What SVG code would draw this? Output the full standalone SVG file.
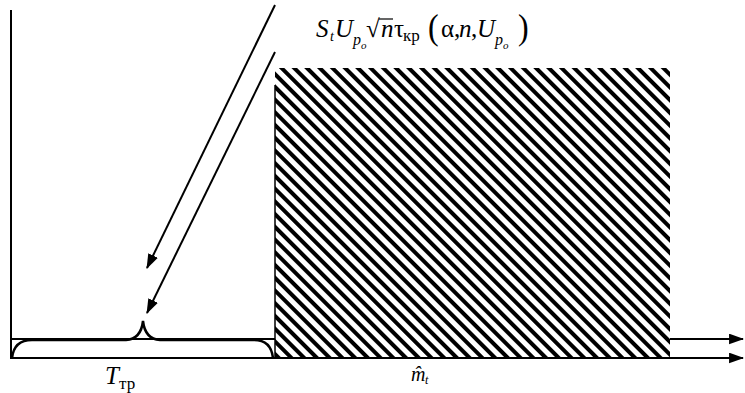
<svg xmlns="http://www.w3.org/2000/svg" width="745" height="393" viewBox="0 0 745 393">
<style>
.ln{stroke:#000;stroke-width:2;fill:none}
.ar{stroke:#000;stroke-width:2;fill:none;marker-end:url(#ah)}
.it{font-family:"Liberation Serif","Times New Roman",serif;font-style:italic;fill:#000}
.rm{font-family:"Liberation Serif","Times New Roman",serif;fill:#000}
</style>
<defs>
<marker id="ah" viewBox="0 0 14 10" refX="13" refY="5" markerWidth="7.5" markerHeight="5.5" orient="auto" markerUnits="strokeWidth">
<path d="M0,0 L14,5 L0,10 Z" fill="#000"/>
</marker>
<pattern id="hatch" patternUnits="userSpaceOnUse" width="9" height="9" patternTransform="rotate(45)">
<rect x="0" y="0" width="9" height="4" fill="#000"/>
</pattern>
</defs>
<rect width="745" height="393" fill="#fff"/>
<g id="hatched-region">
<rect x="275" y="68" width="395" height="290" fill="url(#hatch)"/>
<line class="ln" x1="275" y1="85" x2="275" y2="358" style="stroke-width:1.5"/>
</g>
<g id="axes">
<line class="ln" x1="11" y1="10" x2="11" y2="359"/>
<line class="ln" x1="11" y1="339" x2="275" y2="339"/>
</g>
<g id="brace">
<path class="ln" d="M12,358 Q14,340 32,340 L126,340 Q141,339 143,321 Q145,339 160,340 L254,340 Q271,340 273,358" style="stroke-width:2.5"/>
</g>
<g id="connectors">
<line class="ar" x1="275" y1="5" x2="147" y2="268"/>
<line class="ar" x1="275" y1="52" x2="147" y2="313"/>
<line class="ar" x1="11" y1="358" x2="743" y2="358"/>
<line class="ar" x1="670" y1="339" x2="743" y2="339"/>
</g>
<g id="formula">
<text class="it" x="316" y="37" font-size="25">S</text>
<text class="it" x="330" y="41" font-size="14">t</text>
<text class="it" x="335" y="37" font-size="25">U</text>
<text class="it" x="353" y="45" font-size="16">p</text>
<text class="it" x="361" y="49" font-size="11">o</text>
<text class="rm" x="366" y="37" font-size="25">√</text>
<line class="ln" x1="379" y1="19" x2="393" y2="19" style="stroke-width:1.2"/>
<text class="it" x="381" y="37" font-size="25">n</text>
<text class="rm" x="394" y="37" font-size="25">τ</text>
<text class="rm" x="403" y="41" font-size="17">кр</text>
<text class="rm" x="428" y="39" font-size="32" transform="translate(428 39) scale(1 1.15) translate(-428 -39)">(</text>
<text class="rm" x="441" y="37" font-size="25">α,</text>
<text class="it" x="459" y="37" font-size="25">n</text>
<text class="rm" x="471" y="37" font-size="25">,</text>
<text class="it" x="477" y="37" font-size="25">U</text>
<text class="it" x="495" y="45" font-size="16">p</text>
<text class="it" x="503" y="49" font-size="11">o</text>
<text class="rm" x="518" y="39" font-size="32" transform="translate(518 39) scale(1 1.15) translate(-518 -39)">)</text>
</g>
<g id="label-T">
<text class="it" x="105" y="384" font-size="25">T</text>
<text class="rm" x="119" y="389" font-size="17">тр</text>
</g>
<g id="label-m">
<text class="it" x="411" y="381" font-size="20">m̂</text>
<text class="it" x="425" y="384" font-size="12">t</text>
</g>
</svg>
